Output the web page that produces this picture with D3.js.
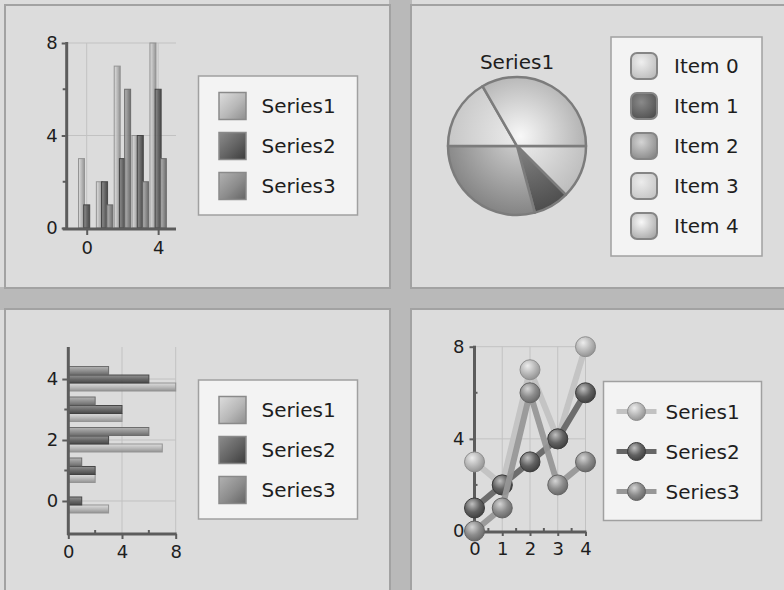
<!DOCTYPE html>
<html><head><meta charset="utf-8">
<script src="https://cdn.jsdelivr.net/npm/d3@7"></script>
<style>
html,body{margin:0;padding:0;background:#dcdcdc;}
svg{display:block;}
</style></head><body>
<svg id="chart" width="784" height="590"></svg>
<script>
// ---- data ----
const categories = [0, 1, 2, 3, 4];
const seriesNames = ["Series1", "Series2", "Series3"];
const series1 = [3, 2, 7, 4, 8];
const series2 = [1, 2, 3, 4, 6];
const series3 = [0, 1, 6, 2, 3];
const pieItems = ["Item 0", "Item 1", "Item 2", "Item 3", "Item 4"];
const pieTitle = "Series1";
const valueTicks = [0, 4, 8];
const columnCategoryTicks = [0, 4];
const barCategoryTicks = [0, 2, 4];
const lineCategoryTicks = [0, 1, 2, 3, 4];

const seriesValues = [series1, series2, series3];

// ---- styles ----
const FONT = "'DejaVu Sans', Verdana, sans-serif";
const panelFill = "#dcdcdc", panelStroke = "#a2a2a2", gutter = "#b9b9b9";
const legendFill = "#f3f3f3", legendStroke = "#a0a0a0";
const axisColor = "#5c5c5c", gridColor = "#c2c2c2", textColor = "#1e1e1e";
const intFormat = d3.format("d");
// [light, base, dark] per series
const seriesShades = [
  ["#dedede", "#b8b8b8", "#8e8e8e"],
  ["#8c8c8c", "#626262", "#3c3c3c"],
  ["#b2b2b2", "#8c8c8c", "#646464"]
];
const lineStroke = ["#c2c2c2", "#666666", "#979797"];
const pieShades = [
  ["#efefef", "#bababa"],
  ["#8a8a8a", "#4e4e4e"],
  ["#d4d4d4", "#868686"],
  ["#ececec", "#c4c4c4"],
  ["#f8f8f8", "#a6a6a6"]
];

const svg = d3.select("#chart").style("font-family", FONT);
const defs = svg.append("defs");

function linGrad(id, stops, x1, y1, x2, y2) {
  const g = defs.append("linearGradient").attr("id", id)
    .attr("x1", x1).attr("y1", y1).attr("x2", x2).attr("y2", y2);
  stops.forEach(([o, c]) => g.append("stop").attr("offset", o).attr("stop-color", c));
  return `url(#${id})`;
}
function radGrad(id, stops, attrs) {
  const g = defs.append("radialGradient").attr("id", id);
  Object.entries(attrs).forEach(([k, v]) => g.attr(k, v));
  stops.forEach(([o, c]) => g.append("stop").attr("offset", o).attr("stop-color", c));
  return `url(#${id})`;
}

// ---- panels and gutters ----
svg.append("rect").attr("x", 389).attr("y", 0).attr("width", 23).attr("height", 590).attr("fill", gutter);
svg.append("rect").attr("x", 0).attr("y", 287).attr("width", 784).attr("height", 23).attr("fill", gutter);
[[5, 5, 385, 283], [411, 5, 400, 283], [5, 309, 385, 300], [411, 309, 400, 300]].forEach(([x, y, w, h]) => {
  svg.append("rect").attr("x", x).attr("y", y).attr("width", w).attr("height", h)
    .attr("fill", panelFill).attr("stroke", panelStroke).attr("stroke-width", 2);
});

function styleAxis(g) {
  g.select(".domain").remove();
  g.attr("font-family", FONT).attr("font-size", 18);
  g.selectAll(".tick line").attr("stroke", axisColor).attr("stroke-width", 2);
  g.selectAll(".tick text").attr("fill", textColor);
}
function hLine(y, x1, x2, color, w) {
  svg.append("line").attr("x1", x1).attr("x2", x2).attr("y1", y).attr("y2", y)
    .attr("stroke", color).attr("stroke-width", w);
}
function vLine(x, y1, y2, color, w) {
  svg.append("line").attr("x1", x).attr("x2", x).attr("y1", y1).attr("y2", y2)
    .attr("stroke", color).attr("stroke-width", w);
}

// gradients for bar-series swatches and bars
const swatchFill = seriesShades.map((s, i) =>
  linGrad("sw" + i, [[0, s[0]], [0.55, s[1]], [1, s[2]]], 0, 0, 1, 1));
const colFill = seriesShades.map((s, i) =>
  linGrad("col" + i, [[0, s[0]], [0.5, s[1]], [1, s[2]]], 0, 0, 1, 0));
const rowFill = seriesShades.map((s, i) =>
  linGrad("row" + i, [[0, s[0]], [0.5, s[1]], [1, s[2]]], 0, 0, 0, 1));

function squareLegend(x0, y0) {
  svg.append("rect").attr("x", x0).attr("y", y0).attr("width", 159).attr("height", 139)
    .attr("fill", legendFill).attr("stroke", legendStroke).attr("stroke-width", 1.5);
  seriesNames.forEach((name, i) => {
    const cy = y0 + 30 + i * 40;
    svg.append("rect").attr("x", x0 + 20.5).attr("y", cy - 13.5).attr("width", 27).attr("height", 27)
      .attr("fill", swatchFill[i]).attr("stroke", "#8a8a8a").attr("stroke-width", 1.5);
    svg.append("text").attr("x", x0 + 63).attr("y", cy).attr("dy", "0.36em")
      .attr("font-size", 20).attr("fill", textColor).text(name);
  });
}

// ================= column chart (top-left) =================
{
  const x = d3.scaleLinear().domain([-1.12, 5]).range([66.7, 176]);
  const y = d3.scaleLinear().domain([0, 8]).range([228, 43]);
  const [x0, x1] = x.range();
  valueTicks.filter(v => v > 0).forEach(v => hLine(y(v), x0, x1, gridColor, 1));
  columnCategoryTicks.forEach(c => vLine(x(c), y(8), y(0), gridColor, 1));

  const offs = [-5.2, 0, 5.2], bw = 6;
  seriesValues.forEach((vals, s) => {
    svg.append("g").selectAll("rect").data(categories).join("rect")
      .attr("x", c => x(c) + offs[s] - bw / 2)
      .attr("y", c => y(vals[c]))
      .attr("width", bw)
      .attr("height", c => y(0) - y(vals[c]))
      .attr("fill", colFill[s]).attr("stroke", seriesShades[s][2])
      .attr("stroke-width", 1).attr("opacity", 0.92);
  });

  svg.append("g").attr("transform", `translate(${x0 - 1},0)`)
    .call(d3.axisLeft(y).tickValues(valueTicks).tickFormat(intFormat).tickSize(4).tickPadding(4)).call(styleAxis);
  svg.append("g").attr("transform", `translate(0,${y(0) + 1})`)
    .call(d3.axisBottom(x).tickValues(columnCategoryTicks).tickFormat(intFormat).tickSize(6).tickPadding(6)).call(styleAxis);
  [2, 6].forEach(v => hLine(y(v), x0 - 4, x0, axisColor, 2));
  vLine(x0, y(8) - 1, y(0) + 2, axisColor, 3);
  hLine(y(0) + 1, x0 - 4, x1, axisColor, 3);

  squareLegend(198.5, 76);
}

// ================= pie chart (top-right) =================
{
  const cx = 517, cy = 146, r = 69;
  svg.append("text").attr("x", cx).attr("y", 69).attr("text-anchor", "middle")
    .attr("font-size", 20).attr("fill", textColor).text(pieTitle);
  const pie = d3.pie().sort(null).startAngle(Math.PI / 2).endAngle(Math.PI / 2 + 2 * Math.PI);
  const arc = d3.arc().innerRadius(0).outerRadius(r);
  const arcs = pie(series1);
  // gradient coordinates are in the translated group's space (pie centre = 0,0)
  const fills = pieShades.map((s, i) => radGrad("pie" + i, [[0, s[0]], [1, s[1]]],
    { gradientUnits: "userSpaceOnUse", cx: 3, cy: -10, r: r + 8, fx: 3, fy: -10 }));
  svg.append("g").attr("transform", `translate(${cx},${cy})`)
    .selectAll("path").data(arcs).join("path")
    .attr("d", arc).attr("fill", (d, i) => fills[i])
    .attr("stroke", "#7c7c7c").attr("stroke-width", 2.5).attr("stroke-linejoin", "round");

  // legend
  const lx = 611, ly = 37;
  svg.append("rect").attr("x", lx).attr("y", ly).attr("width", 151).attr("height", 219)
    .attr("fill", legendFill).attr("stroke", legendStroke).attr("stroke-width", 1.5);
  const swf = pieShades.map((s, i) => radGrad("pieSw" + i, [[0, s[0]], [1, s[1]]],
    { cx: "40%", cy: "35%", r: "75%" }));
  pieItems.forEach((name, i) => {
    const yy = ly + 29 + i * 40;
    svg.append("rect").attr("x", lx + 20).attr("y", yy - 13).attr("width", 26).attr("height", 26)
      .attr("rx", 6).attr("fill", swf[i]).attr("stroke", "#858585").attr("stroke-width", 2);
    svg.append("text").attr("x", lx + 63).attr("y", yy).attr("dy", "0.36em")
      .attr("font-size", 20).attr("fill", textColor).text(name);
  });
}

// ================= bar chart (bottom-left) =================
{
  const x = d3.scaleLinear().domain([0, 8]).range([68.3, 175.7]);
  const y = d3.scaleLinear().domain([-1.05, 5.05]).range([533, 347]);
  const [x0, x1] = x.range();
  const [yb, yt] = y.range();
  [4, 8].forEach(v => vLine(x(v), yt, yb, gridColor, 1));
  barCategoryTicks.forEach(c => hLine(y(c), x0, x1, gridColor, 1));

  const offs = [8, 0, -8.5], bh = 8;
  seriesValues.forEach((vals, s) => {
    svg.append("g").selectAll("rect").data(categories).join("rect")
      .attr("x", x(0))
      .attr("y", c => y(c) + offs[s] - bh / 2)
      .attr("width", c => x(vals[c]) - x(0))
      .attr("height", bh)
      .attr("fill", rowFill[s]).attr("stroke", seriesShades[s][2])
      .attr("stroke-width", 1).attr("opacity", 0.92);
  });

  svg.append("g").attr("transform", `translate(${x0 - 1},0)`)
    .call(d3.axisLeft(y).tickValues(barCategoryTicks).tickFormat(intFormat).tickSize(5).tickPadding(4)).call(styleAxis);
  svg.append("g").attr("transform", `translate(0,${yb + 1})`)
    .call(d3.axisBottom(x).tickValues(valueTicks).tickFormat(intFormat).tickSize(5).tickPadding(6)).call(styleAxis);
  [2, 6].forEach(v => vLine(x(v), yb - 3, yb, axisColor, 2));
  [1, 3].forEach(v => hLine(y(v), x0 - 4, x0, axisColor, 2));
  vLine(x0, yt, yb + 2, axisColor, 3);
  hLine(yb + 1, x0 - 1, x1 + 1, axisColor, 3);

  squareLegend(198.5, 380);
}

// ================= line chart (bottom-right) =================
{
  const x = d3.scaleLinear().domain([0, 4]).range([474.5, 585.5]);
  const y = d3.scaleLinear().domain([0, 8]).range([531, 346.7]);
  const [x0, x1] = x.range();
  lineCategoryTicks.filter(c => c > 0).forEach(c => vLine(x(c), y(8), y(0), gridColor, 1));
  valueTicks.filter(v => v > 0).forEach(v => hLine(y(v), x0, x1, gridColor, 1));

  svg.append("g").attr("transform", `translate(${x0 - 1},0)`)
    .call(d3.axisLeft(y).tickValues(valueTicks).tickFormat(intFormat).tickSize(4).tickPadding(5)).call(styleAxis);
  svg.append("g").attr("transform", `translate(0,${y(0) + 1})`)
    .call(d3.axisBottom(x).tickValues(lineCategoryTicks).tickFormat(intFormat).tickSize(4).tickPadding(6)).call(styleAxis);
  d3.range(0.5, 4, 1).forEach(v => vLine(x(v), y(0) - 3, y(0), axisColor, 2));
  [2, 6].forEach(v => hLine(y(v), x0, x0 + 3, axisColor, 2));
  vLine(x0, y(8) - 1, y(0) + 2, axisColor, 3);
  hLine(y(0) + 1, x0 - 1, x1 + 1, axisColor, 3);

  const markerFill = seriesShades.map((s, i) => radGrad("mk" + i,
    [[0, d3.interpolateRgb(s[0], "#ffffff")(0.45)], [0.55, s[1]], [1, s[2]]],
    { cx: "40%", cy: "35%", r: "70%", fx: "38%", fy: "30%" }));
  const line = d3.line().x(c => x(c));
  seriesValues.forEach((vals, s) => {
    svg.append("path").datum(categories)
      .attr("d", line.y(c => y(vals[c])))
      .attr("fill", "none").attr("stroke", lineStroke[s]).attr("stroke-width", 6)
      .attr("stroke-linejoin", "round").attr("opacity", 0.95);
    svg.append("g").selectAll("circle").data(categories).join("circle")
      .attr("cx", c => x(c)).attr("cy", c => y(vals[c])).attr("r", 10)
      .attr("fill", markerFill[s]).attr("stroke", seriesShades[s][2]).attr("stroke-width", 1);
  });

  // legend
  const lx = 603.5, ly = 381.5;
  svg.append("rect").attr("x", lx).attr("y", ly).attr("width", 158).attr("height", 139)
    .attr("fill", legendFill).attr("stroke", legendStroke).attr("stroke-width", 1.5);
  seriesNames.forEach((name, i) => {
    const yy = ly + 30 + i * 40;
    svg.append("line").attr("x1", lx + 13).attr("x2", lx + 53).attr("y1", yy).attr("y2", yy)
      .attr("stroke", lineStroke[i]).attr("stroke-width", 5);
    svg.append("circle").attr("cx", lx + 33).attr("cy", yy).attr("r", 9)
      .attr("fill", markerFill[i]).attr("stroke", seriesShades[i][2]).attr("stroke-width", 1);
    svg.append("text").attr("x", lx + 62).attr("y", yy).attr("dy", "0.36em")
      .attr("font-size", 20).attr("fill", textColor).text(name);
  });
}
</script>
</body></html>
